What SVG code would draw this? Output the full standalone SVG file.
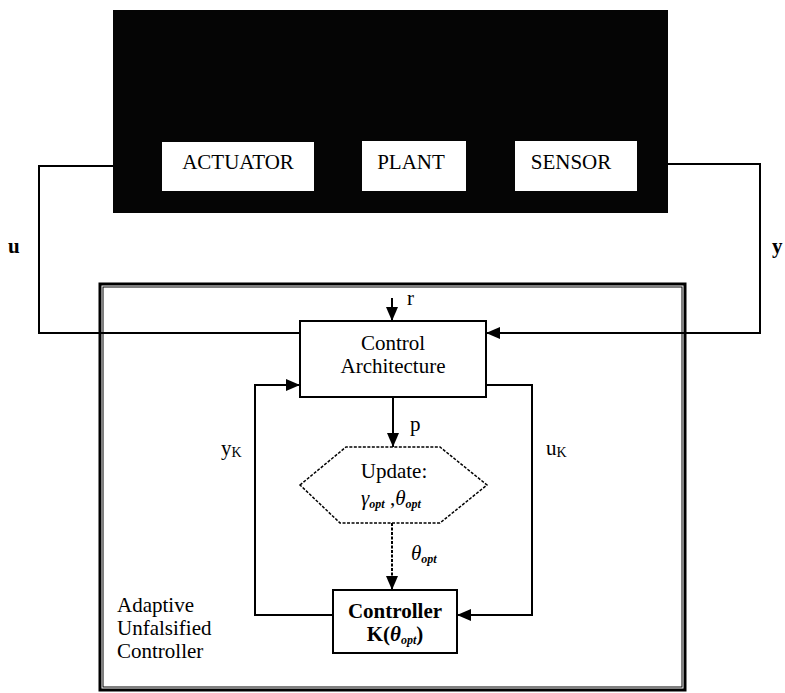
<svg xmlns="http://www.w3.org/2000/svg" width="785" height="693" viewBox="0 0 785 693">
<style>
  .t { font-family: "Liberation Serif", "Times New Roman", serif; font-size: 21px; fill: #000; }
  .b { font-weight: bold; }
  .i { font-style: italic; }
  .box { fill: #fff; stroke: #000; stroke-width: 2; }
  .w { fill: none; stroke: #000; stroke-width: 2; }
  .sub { font-size: 12px; font-weight: bold; font-style: italic; }
</style>
<defs>
  <marker id="ah" viewBox="0 0 14 12" refX="14" refY="6" markerWidth="14" markerHeight="12" markerUnits="userSpaceOnUse" orient="auto">
    <path d="M0,0 L14,6 L0,12 z" fill="#000"/>
  </marker>
</defs>
<rect width="785" height="693" fill="#fff"/>

<g id="system">
  <rect x="113" y="10" width="555" height="203" fill="#050505"/>
  <g id="actuator">
    <rect x="162" y="142" width="152" height="49" fill="#fff"/>
    <text class="t" x="238" y="169" text-anchor="middle">ACTUATOR</text>
  </g>
  <g id="plant">
    <rect x="362" y="141" width="104" height="50" fill="#fff"/>
    <text class="t" x="411" y="169" text-anchor="middle">PLANT</text>
  </g>
  <g id="sensor">
    <rect x="515" y="141" width="122" height="50" fill="#fff"/>
    <text class="t" x="571" y="169" text-anchor="middle">SENSOR</text>
  </g>
</g>

<g id="adaptive-controller">
  <rect x="100" y="284" width="585" height="406" fill="none" stroke="#000" stroke-width="3"/>
  <rect x="103" y="287" width="579" height="400" fill="none" stroke="#000" stroke-width="1"/>
  <text class="t" x="117" y="612">Adaptive</text>
  <text class="t" x="117" y="635">Unfalsified</text>
  <text class="t" x="117" y="658">Controller</text>
</g>

<g id="control-architecture">
  <rect class="box" x="300" y="321" width="186" height="76"/>
  <text class="t" x="393" y="350" text-anchor="middle">Control</text>
  <text class="t" x="393" y="373" text-anchor="middle">Architecture</text>
</g>

<g id="update">
  <polygon points="300,485 346,447 440,447 487,485 440,523 340,523" fill="#fff" stroke="#000" stroke-width="1.5" stroke-dasharray="3,1.5"/>
  <text class="t" x="394" y="478" text-anchor="middle">Update:</text>
  <text class="t i" x="361" y="505">γ<tspan class="sub" dy="3">opt</tspan><tspan dy="-3" font-style="normal"> ,</tspan>θ<tspan class="sub" dy="3">opt</tspan></text>
</g>

<g id="controller">
  <rect class="box" x="333" y="590" width="124" height="63"/>
  <text class="t b" x="395" y="618" text-anchor="middle">Controller</text>
  <text class="t b" x="395" y="641" text-anchor="middle">K(<tspan font-style="italic">θ</tspan><tspan class="sub" dy="3">opt</tspan><tspan dy="-3">)</tspan></text>
</g>

<g id="connectors">
  <polyline class="w" points="113,166 39,166 39,333 300,333"/>
  <polyline class="w" points="668,164 760,164 760,333 486,333" marker-end="url(#ah)"/>
  <line class="w" x1="392" y1="298" x2="392" y2="321" marker-end="url(#ah)"/>
  <line class="w" x1="393" y1="397" x2="393" y2="447" marker-end="url(#ah)"/>
  <line class="w" x1="392" y1="523" x2="392" y2="590" stroke-dasharray="3,1.5" stroke-width="1.5" marker-end="url(#ah)"/>
  <polyline class="w" points="333,615 255,615 255,385 300,385" marker-end="url(#ah)"/>
  <polyline class="w" points="486,385 532,385 532,615 457,615" marker-end="url(#ah)"/>
</g>

<g id="labels">
  <text class="t b" x="8" y="253" font-size="19">u</text>
  <text class="t b" x="772" y="253" font-size="19">y</text>
  <text class="t" x="407" y="305">r</text>
  <text class="t" x="410" y="431">p</text>
  <text class="t" x="221" y="455">y<tspan font-size="14" dy="2">K</tspan></text>
  <text class="t" x="546" y="455">u<tspan font-size="14" dy="2">K</tspan></text>
  <text class="t i" x="411" y="560">θ<tspan class="sub" dy="3">opt</tspan></text>
</g>
</svg>
